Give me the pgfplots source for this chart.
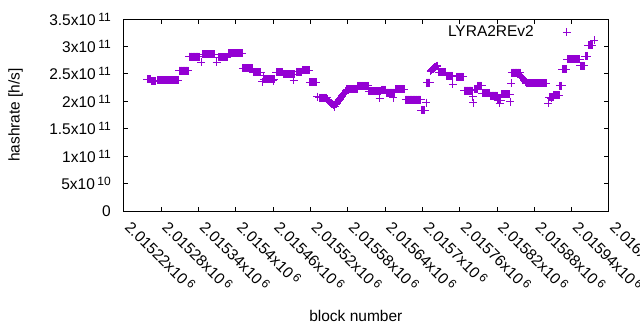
\documentclass[border=0pt]{standalone}
\usepackage{fontspec}
\setmainfont{Liberation Sans}
\usepackage{pgfplots}
\pgfplotsset{compat=1.18}
\definecolor{gpviolet}{RGB}{148,0,211}
\newcommand{\sx}[2]{#1x10\kern2.5pt\raisebox{4pt}{\fontsize{12}{12}\selectfont #2}}
\newcommand{\fnt}{\fontsize{15.5}{18}\selectfont}
\begin{document}
\begin{tikzpicture}
\useasboundingbox (-124pt,-119pt) rectangle (516pt,211pt);
% x values: block number minus 2015000 (tick labels show the full block numbers)
\begin{axis}[
  at={(0pt,0pt)}, anchor=south west,
  scale only axis, width=485pt, height=192pt,
  xmin=220, xmax=1000,
  ymin=0, ymax=3.5e11,
  scaled ticks=false,
  axis line style={line width=1pt},
  every tick/.style={black, line width=1pt},
  major tick length=4.5pt,
  tick align=inside,
  xtick={220,280,340,400,460,520,580,640,700,760,820,880,940,1000},
  xticklabels={\sx{2.01522}{6},\sx{2.01528}{6},\sx{2.01534}{6},\sx{2.0154}{6},\sx{2.01546}{6},\sx{2.01552}{6},\sx{2.01558}{6},\sx{2.01564}{6},\sx{2.0157}{6},\sx{2.01576}{6},\sx{2.01582}{6},\sx{2.01588}{6},\sx{2.01594}{6},\sx{2.016}{6}},
  ytick={0,5e10,1e11,1.5e11,2e11,2.5e11,3e11,3.5e11},
  yticklabels={0,\sx{5}{10},\sx{1}{11},\sx{1.5}{11},\sx{2}{11},\sx{2.5}{11},\sx{3}{11},\sx{3.5}{11}},
  xticklabel style={font=\fnt, yshift=-17pt, rotate=-45, anchor=base west, inner sep=0pt},
  yticklabel style={font=\fnt, inner sep=0pt, xshift=-13pt},
  xlabel={block number},
  ylabel={hashrate [h/s]},
  every axis x label/.style={at={(axis description cs:0.478,-0.547)}, anchor=center, font=\fnt},
  every axis y label/.style={at={(axis description cs:-0.2237,0.5)}, rotate=90, anchor=center, font=\fnt},
  legend plot pos=right,
  legend style={draw=none, fill=none, font=\fnt, at={(axis description cs:0.928,0.932)}, anchor=east},
  clip=false,
]
\addplot[only marks, mark=+, mark size=4pt, color=gpviolet, mark options={line width=1pt}] coordinates {
(257,2.406e11)(258,2.406e11)(259,2.406e11)(260,2.406e11)(261,2.406e11)(262,2.406e11)
(265,2.361e11)(266,2.361e11)(267,2.361e11)(268,2.361e11)(269,2.361e11)(270,2.361e11)(271,2.361e11)
(274,2.379e11)(275,2.379e11)(276,2.379e11)(277,2.379e11)(278,2.379e11)(279,2.379e11)(280,2.379e11)(281,2.379e11)(282,2.379e11)(283,2.379e11)(284,2.379e11)(285,2.379e11)(286,2.379e11)(287,2.379e11)(288,2.379e11)(289,2.379e11)(290,2.379e11)(291,2.379e11)(292,2.379e11)(293,2.379e11)(294,2.379e11)(295,2.379e11)(296,2.379e11)(297,2.379e11)(298,2.379e11)(299,2.379e11)(300,2.379e11)(301,2.379e11)(302,2.379e11)(303,2.379e11)(304,2.379e11)(305,2.379e11)(306,2.379e11)(307,2.379e11)
(309,2.561e11)(310,2.561e11)(311,2.561e11)(312,2.561e11)(313,2.561e11)(314,2.561e11)(315,2.561e11)(316,2.561e11)(317,2.561e11)(318,2.561e11)(319,2.561e11)(320,2.561e11)(321,2.561e11)(322,2.561e11)(323,2.561e11)
(325,2.816e11)(326,2.816e11)(327,2.816e11)(328,2.816e11)(329,2.816e11)(330,2.816e11)(331,2.816e11)(332,2.816e11)(333,2.816e11)(334,2.816e11)(335,2.816e11)(336,2.816e11)(337,2.816e11)(338,2.816e11)(339,2.816e11)(340,2.816e11)(341,2.816e11)
(344,2.716e11)
(346,2.856e11)(347,2.856e11)(348,2.856e11)(349,2.856e11)(350,2.856e11)(351,2.856e11)(352,2.856e11)(353,2.856e11)(354,2.856e11)(355,2.856e11)(356,2.856e11)(357,2.856e11)(358,2.856e11)(359,2.856e11)(360,2.856e11)(361,2.856e11)(362,2.856e11)(363,2.856e11)(364,2.856e11)(365,2.856e11)(366,2.856e11)
(369,2.716e11)
(372,2.807e11)(373,2.807e11)(374,2.807e11)(375,2.807e11)(376,2.807e11)(377,2.807e11)(378,2.807e11)(379,2.807e11)(380,2.807e11)(381,2.807e11)(382,2.807e11)(383,2.807e11)(384,2.807e11)(385,2.807e11)(386,2.807e11)
(388,2.880e11)(389,2.880e11)(390,2.880e11)(391,2.880e11)(392,2.880e11)(393,2.880e11)(394,2.880e11)(395,2.880e11)(396,2.880e11)(397,2.880e11)(398,2.880e11)(399,2.880e11)(400,2.880e11)(401,2.880e11)(402,2.880e11)(403,2.880e11)(404,2.880e11)(405,2.880e11)(406,2.880e11)(407,2.880e11)(408,2.880e11)(409,2.880e11)(410,2.880e11)
(411,2.601e11)(412,2.601e11)(413,2.601e11)(414,2.601e11)(415,2.601e11)(416,2.601e11)(417,2.601e11)(418,2.601e11)(419,2.601e11)(420,2.601e11)(421,2.601e11)(422,2.601e11)(423,2.601e11)(424,2.601e11)(425,2.601e11)(426,2.601e11)
(428,2.528e11)(429,2.528e11)(430,2.528e11)(431,2.528e11)(432,2.528e11)(433,2.528e11)(434,2.528e11)(435,2.528e11)(436,2.528e11)(437,2.528e11)(438,2.528e11)(439,2.528e11)(440,2.528e11)
(442,2.357e11)(444,2.461e11)
(445,2.406e11)(446,2.406e11)(447,2.406e11)(448,2.406e11)(449,2.406e11)(450,2.406e11)(451,2.406e11)(452,2.406e11)(453,2.406e11)(454,2.406e11)(455,2.406e11)(456,2.406e11)(457,2.406e11)(458,2.406e11)(459,2.406e11)(460,2.406e11)(460,2.370e11)(461,2.406e11)(462,2.406e11)
(465,2.525e11)(466,2.525e11)(467,2.525e11)(468,2.525e11)(469,2.525e11)(470,2.525e11)(471,2.525e11)(472,2.525e11)(473,2.525e11)(474,2.525e11)(475,2.525e11)
(477,2.497e11)(478,2.497e11)(479,2.497e11)(480,2.497e11)(481,2.497e11)(482,2.497e11)(483,2.497e11)(484,2.497e11)(485,2.497e11)(486,2.497e11)(487,2.497e11)(488,2.497e11)(489,2.497e11)(490,2.497e11)(491,2.497e11)(492,2.497e11)(493,2.497e11)(493,2.388e11)(494,2.497e11)
(497,2.534e11)(498,2.534e11)(499,2.534e11)(500,2.534e11)(501,2.534e11)(502,2.534e11)(503,2.534e11)(504,2.534e11)(505,2.534e11)(506,2.534e11)
(507,2.570e11)(508,2.570e11)(509,2.570e11)(510,2.570e11)(511,2.570e11)(512,2.570e11)(513,2.570e11)(514,2.570e11)(515,2.570e11)(516,2.570e11)(517,2.570e11)(518,2.570e11)
(519,2.351e11)(520,2.351e11)(521,2.351e11)(522,2.351e11)(523,2.351e11)(524,2.351e11)(525,2.351e11)(526,2.351e11)(527,2.351e11)(528,2.351e11)(529,2.351e11)
(531,2.083e11)
(534,2.060e11)(535,2.060e11)(536,2.060e11)(537,2.060e11)(538,2.060e11)(539,2.060e11)(540,2.060e11)(541,2.060e11)(542,2.060e11)(543,2.060e11)(544,2.060e11)(545,2.060e11)(546,2.060e11)
(547,2.04e11)(548,2.02e11)(549,2.00e11)(550,1.99e11)(551,1.98e11)(552,1.97e11)(553,1.96e11)(554,1.95e11)(555,1.95e11)(556,1.95e11)(557,1.94e11)(558,1.94e11)(559,1.90e11)(560,1.95e11)(561,1.95e11)(562,1.96e11)(563,1.98e11)
(564,2.00e11)(565,2.02e11)(566,2.03e11)(567,2.04e11)(568,2.05e11)(569,2.07e11)(570,2.08e11)(571,2.10e11)(572,2.12e11)(573,2.13e11)(574,2.14e11)(575,2.15e11)(576,2.16e11)(577,2.19e11)
(578,2.224e11)(579,2.224e11)(580,2.224e11)(581,2.224e11)(582,2.224e11)(583,2.224e11)(584,2.224e11)(585,2.224e11)(586,2.224e11)(587,2.224e11)(588,2.224e11)(589,2.224e11)(590,2.224e11)(591,2.224e11)(592,2.224e11)(593,2.224e11)(594,2.224e11)(595,2.224e11)
(596,2.279e11)(597,2.279e11)(598,2.279e11)(599,2.279e11)(600,2.279e11)(601,2.279e11)(602,2.279e11)(603,2.279e11)(604,2.279e11)(605,2.279e11)(606,2.279e11)(607,2.279e11)(608,2.279e11)(609,2.279e11)(610,2.279e11)(611,2.279e11)(612,2.279e11)(613,2.279e11)
(614,2.187e11)(615,2.187e11)(616,2.187e11)(617,2.187e11)(618,2.187e11)(619,2.187e11)(620,2.187e11)(621,2.187e11)(622,2.187e11)(623,2.187e11)(624,2.187e11)(625,2.187e11)(626,2.187e11)(627,2.187e11)(628,2.187e11)(629,2.187e11)(630,2.187e11)(631,2.187e11)(631,2.054e11)(632,2.187e11)(633,2.187e11)
(634,2.206e11)(635,2.206e11)(636,2.206e11)(637,2.206e11)(638,2.206e11)(639,2.206e11)(640,2.206e11)(641,2.206e11)
(642,2.160e11)(643,2.160e11)(644,2.160e11)(645,2.160e11)(646,2.160e11)(647,2.160e11)(648,2.160e11)(649,2.160e11)(650,2.160e11)(651,2.160e11)(652,2.160e11)(653,2.160e11)(653,2.065e11)(654,2.160e11)(655,2.160e11)
(656,2.224e11)(657,2.224e11)(658,2.224e11)(659,2.224e11)(660,2.224e11)(661,2.224e11)(662,2.224e11)(663,2.224e11)(664,2.224e11)(665,2.224e11)(666,2.224e11)(667,2.224e11)(668,2.224e11)(669,2.224e11)(670,2.224e11)(671,2.224e11)
(673,2.032e11)(674,2.032e11)(675,2.032e11)(676,2.032e11)(677,2.032e11)(678,2.032e11)(679,2.032e11)(680,2.032e11)(681,2.032e11)(682,2.032e11)(683,2.032e11)(684,2.032e11)(685,2.032e11)(686,2.032e11)(687,2.032e11)(688,2.032e11)(689,2.032e11)(690,2.032e11)(691,2.032e11)(692,2.032e11)(693,2.032e11)(694,2.032e11)(695,2.032e11)(696,2.032e11)(697,2.032e11)
(698,1.841e11)(699,1.841e11)(700,1.841e11)(701,1.841e11)(702,1.841e11)(703,1.841e11)(704,1.841e11)
(706,1.974e11)(707,2.339e11)
(708,2.342e11)(709,2.342e11)(710,2.342e11)(711,2.342e11)(712,2.342e11)
(713,2.55e11)(714,2.57e11)(715,2.57e11)(716,2.58e11)(717,2.59e11)(718,2.60e11)(719,2.61e11)(720,2.62e11)(721,2.63e11)(722,2.64e11)(723,2.64e11)(724,2.65e11)
(726,2.525e11)(727,2.525e11)(728,2.525e11)(729,2.525e11)(730,2.525e11)(731,2.525e11)(732,2.525e11)(733,2.525e11)(734,2.525e11)(735,2.525e11)(736,2.525e11)(737,2.525e11)
(739,2.461e11)(740,2.461e11)(741,2.461e11)(742,2.461e11)(743,2.461e11)(744,2.461e11)(745,2.461e11)(746,2.461e11)(747,2.461e11)(748,2.461e11)
(749,2.315e11)
(755,2.443e11)(756,2.443e11)(757,2.443e11)(758,2.443e11)(759,2.443e11)(760,2.443e11)(761,2.443e11)(762,2.443e11)(763,2.443e11)(764,2.443e11)(765,2.443e11)(766,2.443e11)
(767,2.196e11)(768,2.196e11)(769,2.196e11)(770,2.196e11)(771,2.196e11)(772,2.196e11)(773,2.196e11)(774,2.196e11)(775,2.196e11)(776,2.196e11)(777,2.196e11)(778,2.196e11)(779,2.196e11)(780,2.196e11)
(781,2.083e11)(782,1.969e11)
(783,2.224e11)(784,2.224e11)(785,2.224e11)(786,2.224e11)(787,2.224e11)(788,2.224e11)
(789,2.279e11)(790,2.279e11)(791,2.279e11)(792,2.279e11)(793,2.279e11)(794,2.279e11)(795,2.279e11)
(796,2.145e11)(797,2.145e11)(798,2.145e11)(799,2.145e11)(800,2.145e11)(801,2.145e11)(802,2.145e11)(803,2.145e11)(804,2.145e11)(805,2.145e11)(806,2.145e11)(807,2.145e11)(808,2.145e11)
(809,2.105e11)(810,2.105e11)(811,2.105e11)(812,2.105e11)(813,2.105e11)(814,2.105e11)(815,2.105e11)(816,2.105e11)(817,2.105e11)(818,2.105e11)(819,2.105e11)(820,2.105e11)
(821,2.023e11)(822,2.023e11)(823,2.023e11)(824,2.023e11)(824,1.963e11)(825,2.023e11)(826,2.023e11)
(827,2.127e11)(828,2.127e11)(829,2.127e11)(830,2.127e11)(831,2.127e11)(832,2.127e11)(833,2.127e11)(834,2.127e11)(835,2.127e11)(836,2.127e11)(837,2.127e11)(838,2.127e11)(839,2.127e11)(840,2.127e11)
(841,1.992e11)(843,2.328e11)
(844,2.521e11)(845,2.521e11)(846,2.521e11)(847,2.521e11)(848,2.521e11)(849,2.521e11)(850,2.521e11)(851,2.521e11)(852,2.521e11)(853,2.521e11)(854,2.521e11)(855,2.521e11)(856,2.521e11)(857,2.521e11)
(858,2.45e11)(859,2.44e11)(860,2.43e11)(861,2.42e11)(862,2.41e11)(863,2.39e11)(864,2.38e11)(865,2.37e11)(866,2.35e11)
(867,2.328e11)(868,2.328e11)(869,2.328e11)(870,2.328e11)(871,2.328e11)(872,2.328e11)(873,2.328e11)(874,2.328e11)(875,2.328e11)(876,2.328e11)(877,2.328e11)(878,2.328e11)(879,2.328e11)(880,2.328e11)(881,2.328e11)(882,2.328e11)(883,2.328e11)(884,2.328e11)(885,2.328e11)(886,2.328e11)(887,2.328e11)(888,2.328e11)(889,2.328e11)(890,2.328e11)(891,2.328e11)(892,2.328e11)(893,2.328e11)(894,2.328e11)(895,2.328e11)(896,2.328e11)(897,2.328e11)(898,2.328e11)(899,2.328e11)
(902,1.963e11)
(904,2.078e11)(905,2.078e11)(906,2.078e11)(907,2.078e11)(907,2.054e11)(908,2.078e11)(909,2.078e11)(910,2.078e11)
(911,2.114e11)(912,2.114e11)(913,2.114e11)(914,2.114e11)(915,2.114e11)(916,2.114e11)(917,2.114e11)(918,2.114e11)(919,2.114e11)(920,2.114e11)
(921,2.279e11)(922,2.279e11)(923,2.279e11)(924,2.279e11)
(925,2.588e11)(926,2.588e11)(927,2.588e11)(928,2.588e11)(929,2.588e11)(930,2.588e11)(931,2.588e11)
(933,2.765e11)(934,2.765e11)(935,2.765e11)(936,2.765e11)(937,2.765e11)(938,2.765e11)(939,2.765e11)(940,2.765e11)(941,2.765e11)(942,2.765e11)(943,2.765e11)(944,2.765e11)(945,2.765e11)(946,2.765e11)(947,2.765e11)(948,2.765e11)(949,2.765e11)(950,2.765e11)(951,2.765e11)(952,2.765e11)(953,2.765e11)
(954,2.647e11)(955,2.647e11)(956,2.647e11)(957,2.647e11)(958,2.647e11)(959,2.647e11)(960,2.647e11)
(962,2.825e11)(963,2.825e11)(964,2.825e11)(965,2.825e11)
(967,3.026e11)(968,3.026e11)(969,3.026e11)(970,3.026e11)(971,3.026e11)(972,3.026e11)(973,3.026e11)
(976,3.117e11)
};
\addlegendentry{LYRA2REv2\rule{27pt}{0pt}}
\end{axis}
\end{tikzpicture}
\end{document}
